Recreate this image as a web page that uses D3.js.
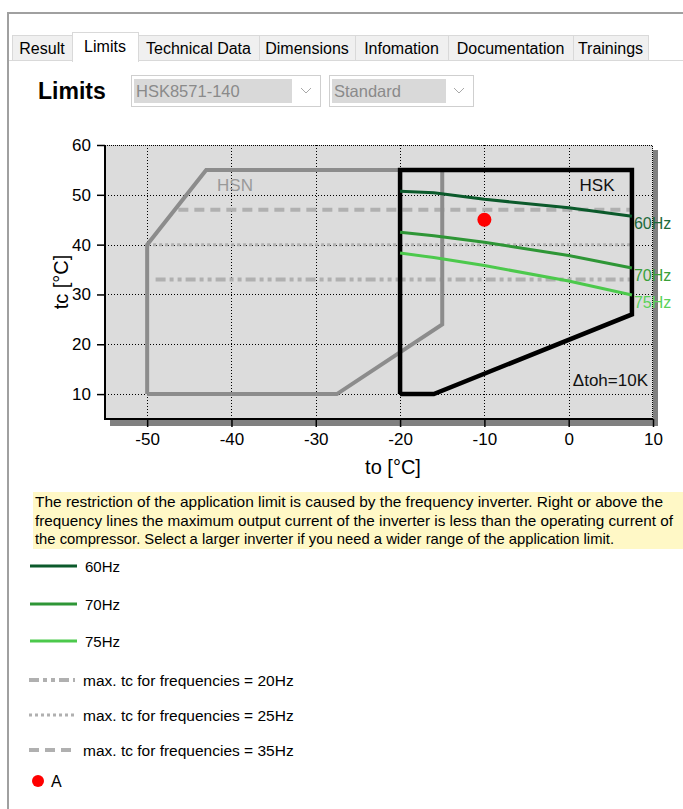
<!DOCTYPE html>
<html>
<head>
<meta charset="utf-8">
<script src="https://cdn.jsdelivr.net/npm/d3@7"></script>
<style>
  body { margin: 0; background: #fff; }
  svg { display: block; font-family: "Liberation Sans", Arial, sans-serif; }
</style>
</head>
<body>
<div id="chart"></div>
<script>
// chart data
const xTicks = [-50, -40, -30, -20, -10, 0, 10];
const yTicks = [10, 20, 30, 40, 50, 60];

// application envelopes (to, tc)
const hsnTo = [-50, -50, -43, -15, -15, -27.5, -50];
const hsnTc = [10, 40, 55, 55, 24, 10, 10];
const hskTo = [-20, -20, 7.5, 7.5, -16, -20];
const hskTc = [10, 55, 55, 26, 10, 10];

// frequency limit lines
const freqNames = ["60Hz", "70Hz", "75Hz"];
const freqTo = [-20, -16, -10, 0, 7.5];
const tc60 = [50.7, 50.4, 49.1, 47.4, 45.7];
const tc70 = [42.5, 41.8, 40.5, 37.8, 35.3];
const tc75 = [38.3, 37.4, 35.8, 32.7, 29.9];

// max. tc lines
const maxTcNames = ["max. tc for frequencies = 20Hz", "max. tc for frequencies = 25Hz", "max. tc for frequencies = 35Hz"];
const maxTcValues = [33, 40, 47];
const maxTcFrom = [-49, -50, -46.3];
const maxTcTo = [7.5, 7.5, 7.5];

// operating point
const pointName = "A";
const pointTo = -10;
const pointTc = 45;

const tabs = ["Result", "Limits", "Technical Data", "Dimensions", "Infomation", "Documentation", "Trainings"];
const infoLines = [
  "The restriction of the application limit is caused by the frequency inverter. Right or above the",
  "frequency lines the maximum output current of the inverter is less than the operating current of",
  "the compressor. Select a larger inverter if you need a wider range of the application limit."
];

// styles
const freqColors = ["#0b5a2b", "#2e9636", "#4cc94c"];
const freqLabelColors = ["#1e6a3c", "#3aa03a", "#5ad25a"];
const maxTcDash = ["10,4,4,4,4,4", "3,3", "10,6"];
const maxTcWidth = [4, 3, 4];
const infoWidths = [628, 638, 579];

const W = 683, H = 809;
const svg = d3.select("#chart").append("svg")
    .attr("width", W)
    .attr("height", H);

// window frame
svg.append("line").attr("x1", 7).attr("x2", W).attr("y1", 13).attr("y2", 13)
    .attr("stroke", "#a0a0a0").attr("stroke-width", 2);
svg.append("line").attr("x1", 8).attr("x2", 8).attr("y1", 13).attr("y2", H)
    .attr("stroke", "#a0a0a0").attr("stroke-width", 2);

// tabs
const tabEdges = [12, 72, 138, 259, 355, 448, 573, 648];
svg.append("line").attr("x1", 9).attr("x2", W).attr("y1", 60.5).attr("y2", 60.5)
    .attr("stroke", "#d9d9d9");
tabs.forEach(function(t, i) {
    const sel = i === 1;
    const x0 = tabEdges[i], x1 = tabEdges[i + 1];
    svg.append("rect")
        .attr("x", x0 + 0.5).attr("y", sel ? 32.5 : 35.5)
        .attr("width", x1 - x0).attr("height", sel ? 29 : 25)
        .attr("fill", sel ? "#fff" : "#f0f0f0")
        .attr("stroke", "#d9d9d9");
    svg.append("text")
        .attr("x", (x0 + x1) / 2).attr("y", sel ? 52 : 54)
        .attr("text-anchor", "middle")
        .attr("font-size", 16)
        .attr("fill", "#000")
        .text(t);
});
svg.append("rect").attr("x", tabEdges[1] + 1).attr("y", 59).attr("width", tabEdges[2] - tabEdges[1] - 1)
    .attr("height", 4).attr("fill", "#fff");

// header
svg.append("text").attr("x", 38).attr("y", 99)
    .attr("font-size", 23).attr("font-weight", "bold").text("Limits");

function combo(x0, x1, inner, label) {
    svg.append("rect").attr("x", x0 + 0.5).attr("y", 75.5).attr("width", x1 - x0).attr("height", 31)
        .attr("fill", "#fff").attr("stroke", "#cfcfcf");
    svg.append("rect").attr("x", x0 + 3).attr("y", 79).attr("width", inner).attr("height", 24)
        .attr("fill", "#d9d9d9");
    svg.append("text").attr("x", x0 + 5).attr("y", 97).attr("font-size", 16.5)
        .attr("fill", "#8a8a8a").text(label);
    svg.append("path")
        .attr("d", `M${x1 - 19},88 L${x1 - 14},93 L${x1 - 9},88`)
        .attr("fill", "none").attr("stroke", "#a8a8a8");
}
combo(131, 320, 158, "HSK8571-140");
combo(329, 473, 114, "Standard");

// plot
const x = d3.scaleLinear().domain([-55, 10]).range([105, 653]);
const y = d3.scaleLinear().domain([5, 60]).range([419, 145]);

// shadow + background
svg.append("rect")
    .attr("x", x(-55) + 5).attr("y", y(60) + 5)
    .attr("width", x(10) - x(-55)).attr("height", y(5) - y(60) + 2)
    .attr("fill", "#808080");
svg.append("rect")
    .attr("x", x(-55)).attr("y", y(60))
    .attr("width", x(10) - x(-55)).attr("height", y(5) - y(60))
    .attr("fill", "#dcdcdc");

// grid
const grid = svg.append("g").attr("stroke", "#000").attr("stroke-dasharray", "1,2");
grid.selectAll(".gx").data(xTicks.slice(0, -1)).enter().append("line")
    .attr("x1", d => Math.round(x(d)) + 0.5).attr("x2", d => Math.round(x(d)) + 0.5)
    .attr("y1", y(60)).attr("y2", y(5));
grid.selectAll(".gy").data(yTicks.slice(0, -1)).enter().append("line")
    .attr("x1", x(-55)).attr("x2", x(10))
    .attr("y1", d => Math.round(y(d)) + 0.5).attr("y2", d => Math.round(y(d)) + 0.5);

// top / right borders (dotted)
svg.append("path")
    .attr("d", `M${x(-55)},${y(60) + 0.5} H${x(10) - 0.5} V${y(5)}`)
    .attr("fill", "none").attr("stroke", "#000").attr("stroke-dasharray", "1,1");

// axes
const xAxis = svg.append("g")
    .attr("transform", `translate(0,${y(5)})`)
    .call(d3.axisBottom(x).tickValues(xTicks).tickSize(8).tickPadding(6).tickFormat(d => String(d)));
const yAxis = svg.append("g")
    .attr("transform", `translate(${x(-55)},0)`)
    .call(d3.axisLeft(y).tickValues(yTicks).tickSize(8).tickPadding(6).tickFormat(d => String(d)));
[xAxis, yAxis].forEach(function(a) {
    a.select(".domain").remove();
    a.selectAll("text").attr("font-size", 17).attr("fill", "#000").attr("font-family", "Liberation Sans, Arial, sans-serif");
    a.selectAll("line").attr("stroke", "#000").attr("stroke-width", 1.5);
});
svg.append("path")
    .attr("d", `M${x(-55)},${y(60)} V${y(5)} H${x(10)}`)
    .attr("fill", "none").attr("stroke", "#000").attr("stroke-width", 2);

svg.append("text")
    .attr("transform", `translate(68,${(y(5) + y(60)) / 2}) rotate(-90)`)
    .attr("text-anchor", "middle").attr("font-size", 20).text("tc [°C]");
svg.append("text")
    .attr("x", (x(-55) + x(10)) / 2 + 14).attr("y", 474)
    .attr("text-anchor", "middle").attr("font-size", 20).text("to [°C]");

// max tc lines
maxTcValues.forEach(function(v, i) {
    svg.append("line")
        .attr("x1", x(maxTcFrom[i])).attr("x2", x(maxTcTo[i]))
        .attr("y1", y(v)).attr("y2", y(v))
        .attr("stroke", "#b0b0b0").attr("stroke-width", maxTcWidth[i])
        .attr("stroke-dasharray", maxTcDash[i]);
});

// envelopes
const env = d3.line().x(d => x(d[0])).y(d => y(d[1]));
svg.append("path")
    .attr("d", env(hsnTo.map((t, i) => [t, hsnTc[i]])))
    .attr("fill", "none").attr("stroke", "#8c8c8c").attr("stroke-width", 4)
    .attr("stroke-linejoin", "miter");
svg.append("path")
    .attr("d", env(hskTo.map((t, i) => [t, hskTc[i]])))
    .attr("fill", "none").attr("stroke", "#000").attr("stroke-width", 4.5)
    .attr("stroke-linejoin", "miter");

// frequency lines
[tc60, tc70, tc75].forEach(function(series, i) {
    svg.append("path")
        .attr("d", env(freqTo.map((t, j) => [t, series[j]])))
        .attr("fill", "none").attr("stroke", freqColors[i]).attr("stroke-width", 3);
    svg.append("text")
        .attr("x", x(freqTo[freqTo.length - 1]) + 2)
        .attr("y", y(series[series.length - 1]) + 9)
        .attr("dominant-baseline", "middle")
        .attr("font-size", 16).attr("fill", freqLabelColors[i])
        .text(freqNames[i]);
});

// envelope labels
svg.append("text").attr("x", 235).attr("y", 191).attr("text-anchor", "middle")
    .attr("font-size", 17).attr("fill", "#999").text("HSN");
svg.append("text").attr("x", 597).attr("y", 191).attr("text-anchor", "middle")
    .attr("font-size", 17).attr("fill", "#111").text("HSK");
svg.append("text").attr("x", 648).attr("y", 386).attr("text-anchor", "end")
    .attr("font-size", 17).attr("fill", "#111").text("Δtoh=10K");

// operating point
svg.append("circle").attr("cx", x(pointTo)).attr("cy", y(pointTc)).attr("r", 7).attr("fill", "#ff0000");

// info box
svg.append("rect").attr("x", 33).attr("y", 492).attr("width", W - 33).attr("height", 57).attr("fill", "#fff8c6");
infoLines.forEach(function(l, i) {
    svg.append("text").attr("x", 35).attr("y", 507 + i * 18.5)
        .attr("font-size", 15).attr("fill", "#000")
        .attr("textLength", infoWidths[i]).attr("lengthAdjust", "spacingAndGlyphs")
        .text(l);
});

// legend
const legend = svg.append("g");
const legendRows = [566, 604, 641, 680, 715, 750];
freqNames.forEach(function(n, i) {
    legend.append("line").attr("x1", 30).attr("x2", 77).attr("y1", legendRows[i]).attr("y2", legendRows[i])
        .attr("stroke", freqColors[i]).attr("stroke-width", 3);
    legend.append("text").attr("x", 85).attr("y", legendRows[i] + 5.5)
        .attr("font-size", 15).text(n);
});
maxTcNames.forEach(function(n, i) {
    const r = legendRows[3 + i];
    legend.append("line").attr("x1", 29).attr("x2", 75).attr("y1", r).attr("y2", r)
        .attr("stroke", "#b0b0b0").attr("stroke-width", maxTcWidth[i])
        .attr("stroke-dasharray", maxTcDash[i]);
    legend.append("text").attr("x", 83).attr("y", r + 5.5)
        .attr("font-size", 15.5).text(n);
});
legend.append("circle").attr("cx", 38).attr("cy", 781).attr("r", 6).attr("fill", "#ff0000");
legend.append("text").attr("x", 51).attr("y", 787).attr("font-size", 16).text(pointName);
</script>
</body>
</html>
